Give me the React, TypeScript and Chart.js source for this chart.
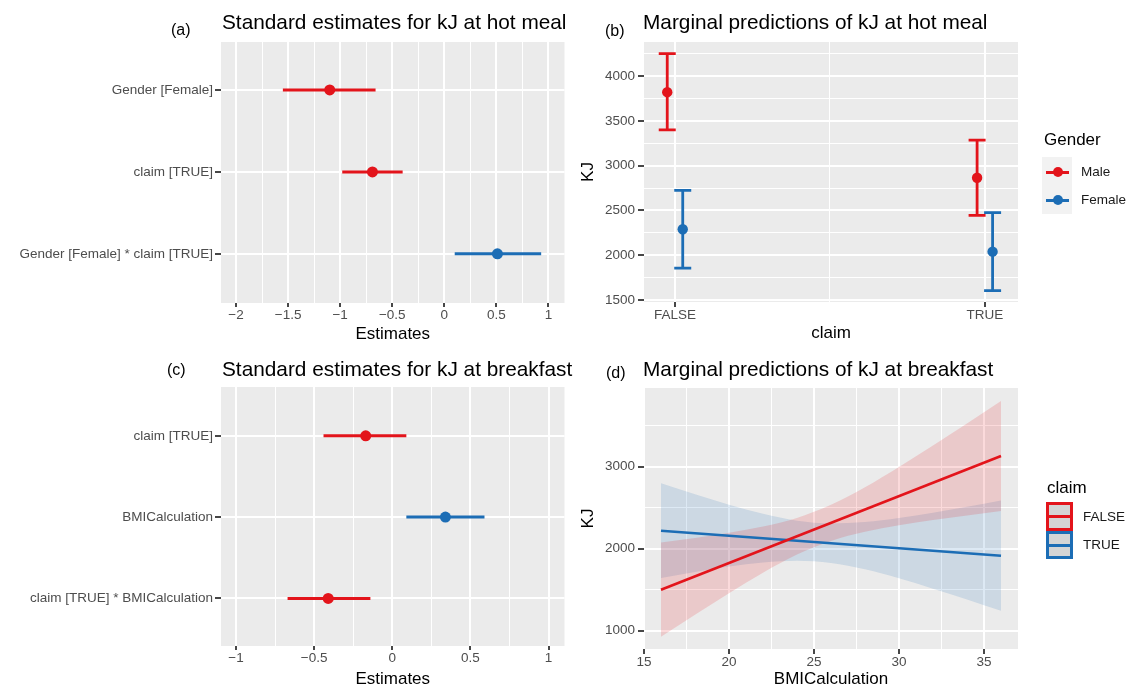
import React, { useEffect, useRef } from 'react';
import { Chart, registerables } from 'chart.js';

Chart.register(...registerables);

const FONT = '"Liberation Sans", Arial, Helvetica, sans-serif';
Chart.defaults.font.family = FONT;

const RED = '#E3141B';
const BLUE = '#1C6DB5';
const TICK_TEXT = '#4D4D4D';
const PANEL_BG = '#EBEBEB';

// ---------- (a) Standard estimates for kJ at hot meal ----------
const termsA = ['Gender [Female]', 'claim [TRUE]', 'Gender [Female] * claim [TRUE]'];
const estA = [-1.1, -0.69, 0.51];
const lowA = [-1.55, -0.98, 0.1];
const highA = [-0.66, -0.4, 0.93];
const xMajorA = [-2, -1.5, -1, -0.5, 0, 0.5, 1];
const xMinorA = [-1.75, -1.25, -0.75, -0.25, 0.25, 0.75];

// ---------- (c) Standard estimates for kJ at breakfast ----------
const termsC = ['claim [TRUE]', 'BMICalculation', 'claim [TRUE] * BMICalculation'];
const estC = [-0.17, 0.34, -0.41];
const lowC = [-0.44, 0.09, -0.67];
const highC = [0.09, 0.59, -0.14];
const xMajorC = [-1, -0.5, 0, 0.5, 1];
const xMinorC = [-0.75, -0.25, 0.25, 0.75];

// ---------- (b) Marginal predictions of kJ at hot meal ----------
const claimLevels = ['FALSE', 'TRUE'];
const genderLevels = ['Male', 'Female'];
const predMale = [3820, 2865];
const lowMale = [3400, 2445];
const highMale = [4250, 3285];
const predFemale = [2290, 2040];
const lowFemale = [1855, 1605];
const highFemale = [2725, 2475];
const yMajorB = [1500, 2000, 2500, 3000, 3500, 4000];
const yMinorB = [1750, 2250, 2750, 3250, 3750, 4250];

// ---------- (d) Marginal predictions of kJ at breakfast ----------
const bmiEnds = [16, 36];
const fitFalse = [1500, 3130];
const fitTrue = [2220, 1915];
const bmi = [16, 18, 20, 22, 24, 26, 28, 30, 32, 34, 36];
const lowFalse = [925, 1195, 1458, 1707, 1928, 2095, 2206, 2285, 2349, 2406, 2460];
const highFalse = [2075, 2131, 2194, 2271, 2376, 2535, 2750, 2997, 3259, 3528, 3800];
const lowTrue = [1643, 1716, 1782, 1833, 1854, 1827, 1749, 1639, 1513, 1381, 1243];
const highTrue = [2797, 2664, 2537, 2425, 2342, 2309, 2325, 2375, 2439, 2511, 2587];
const xMajorD = [15, 20, 25, 30, 35];
const xMinorD = [17.5, 22.5, 27.5, 32.5];
const yMajorD = [1000, 2000, 3000];
const yMinorD = [1500, 2500, 3500];

const minus = (v: number) => (v < 0 ? '\u2212' + String(Math.abs(v)) : String(v));

const bgPlugin = {
  id: 'panelBg',
  beforeDraw(chart: any) {
    const { ctx, chartArea } = chart;
    ctx.save();
    ctx.fillStyle = PANEL_BG;
    ctx.fillRect(chartArea.left, chartArea.top, chartArea.right - chartArea.left, chartArea.bottom - chartArea.top);
    ctx.restore();
  },
};

const errorBarPlugin = {
  id: 'errorBars',
  beforeDatasetsDraw(chart: any) {
    const { ctx } = chart;
    const xs = chart.scales.x;
    const ys = chart.scales.y;
    chart.data.datasets.forEach((ds: any) => {
      const eb = ds.errorBar;
      if (!eb) return;
      ds.data.forEach((d: any, i: number) => {
        ctx.save();
        ctx.strokeStyle = Array.isArray(eb.colors) ? eb.colors[i] : eb.colors;
        ctx.lineWidth = eb.width;
        ctx.lineCap = 'butt';
        ctx.beginPath();
        if (eb.dir === 'x') {
          const y = ys.getPixelForValue(d.y);
          ctx.moveTo(xs.getPixelForValue(d.xMin), y);
          ctx.lineTo(xs.getPixelForValue(d.xMax), y);
        } else {
          const x = xs.getPixelForValue(d.x);
          const y1 = ys.getPixelForValue(d.yMin);
          const y2 = ys.getPixelForValue(d.yMax);
          ctx.moveTo(x, y1);
          ctx.lineTo(x, y2);
          if (eb.cap) {
            ctx.moveTo(x - eb.cap, y1);
            ctx.lineTo(x + eb.cap, y1);
            ctx.moveTo(x - eb.cap, y2);
            ctx.lineTo(x + eb.cap, y2);
          }
        }
        ctx.stroke();
        ctx.restore();
      });
    });
  },
};

type AxisSpec = {
  horizontal: boolean;
  min: number;
  max: number;
  major: number[];
  minor: number[];
  label: (v: number) => string;
  reverse?: boolean;
  size: number;
  tickLen: number;
  tickPad: number;
  title?: string;
  titlePad?: any;
};

function axis(s: AxisSpec) {
  const isMajor = (v: number) => s.major.some((m) => Math.abs(m - v) < 1e-9);
  const all = [...s.major, ...s.minor].sort((a, b) => a - b);
  return {
    type: 'linear',
    position: s.horizontal ? 'bottom' : 'left',
    min: s.min,
    max: s.max,
    reverse: !!s.reverse,
    bounds: 'data',
    afterBuildTicks: (scale: any) => {
      scale.ticks = all.map((v) => ({ value: v }));
    },
    afterFit: (scale: any) => {
      if (s.horizontal) scale.height = s.size;
      else scale.width = s.size;
    },
    grid: {
      display: true,
      drawOnChartArea: true,
      drawTicks: true,
      color: '#FFFFFF',
      lineWidth: (c: any) => (c.tick && isMajor(c.tick.value) ? 2 : 1),
      tickColor: (c: any) => (c.tick && isMajor(c.tick.value) ? '#333333' : 'rgba(0,0,0,0)'),
      tickWidth: (c: any) => (c.tick && isMajor(c.tick.value) ? 1.8 : 1),
      tickLength: s.tickLen,
    },
    border: { display: false },
    ticks: {
      autoSkip: false,
      maxRotation: 0,
      minRotation: 0,
      padding: s.tickPad,
      color: TICK_TEXT,
      font: { family: FONT, size: 13.5, lineHeight: 1.2 },
      callback: (v: any) => (isMajor(Number(v)) ? s.label(Number(v)) : ''),
    },
    title: s.title
      ? {
          display: true,
          text: s.title,
          color: '#000000',
          font: { family: FONT, size: 17, lineHeight: 1 },
          padding: s.titlePad,
        }
      : { display: false },
  };
}

const baseOptions = (padding: any, scales: any) => ({
  responsive: false,
  maintainAspectRatio: false,
  animation: false,
  events: [],
  layout: { padding },
  plugins: { legend: { display: false }, tooltip: { enabled: false }, title: { display: false } },
  scales,
});

function forestConfig(
  terms: string[],
  est: number[],
  low: number[],
  high: number[],
  xMin: number,
  xMax: number,
  xMajor: number[],
  xMinor: number[],
  yMin: number,
  yMax: number,
  titlePadBottom: number
) {
  const colors = est.map((v) => (v < 0 ? RED : BLUE));
  return {
    type: 'scatter',
    data: {
      datasets: [
        {
          data: est.map((v, i) => ({ x: v, y: i + 1, xMin: low[i], xMax: high[i] })),
          pointRadius: 5.5,
          pointHoverRadius: 5.5,
          pointBackgroundColor: colors,
          pointBorderColor: colors,
          pointBorderWidth: 0,
          errorBar: { dir: 'x', width: 3, cap: 0, colors },
        },
      ],
    },
    options: baseOptions(
      { top: 42, right: 5, left: 0, bottom: 0 },
      {
        x: axis({
          horizontal: true,
          min: xMin,
          max: xMax,
          major: xMajor,
          minor: xMinor,
          label: minus,
          size: 42,
          tickLen: 4,
          tickPad: 0,
          title: 'Estimates',
          titlePad: { top: 0, bottom: titlePadBottom },
        }),
        y: axis({
          horizontal: false,
          min: yMin,
          max: yMax,
          reverse: true,
          major: terms.map((_, i) => i + 1),
          minor: [],
          label: (v) => terms[Math.round(v) - 1],
          size: 221,
          tickLen: 6,
          tickPad: 2,
        }),
      }
    ),
    plugins: [bgPlugin, errorBarPlugin],
  };
}

function configA() {
  return forestConfig(termsA, estA, lowA, highA, -2.144, 1.154, xMajorA, xMinorA, 0.415, 3.6, 2.5);
}

function configC() {
  return forestConfig(termsC, estC, lowC, highC, -1.096, 1.102, xMajorC, xMinorC, 0.4, 3.585, 0);
}

function configB() {
  const dodge = 0.025;
  const series = [
    { pred: predMale, low: lowMale, high: highMale, color: RED },
    { pred: predFemale, low: lowFemale, high: highFemale, color: BLUE },
  ];
  return {
    type: 'scatter',
    data: {
      datasets: genderLevels.map((g, gi) => {
        const s = series[gi];
        const off = gi === 0 ? -dodge : dodge;
        return {
          label: g,
          data: claimLevels.map((_, ci) => ({ x: ci + 1 + off, y: s.pred[ci], yMin: s.low[ci], yMax: s.high[ci] })),
          pointRadius: 5.2,
          pointHoverRadius: 5.2,
          pointBackgroundColor: s.color,
          pointBorderColor: s.color,
          pointBorderWidth: 0,
          errorBar: { dir: 'y', width: 2.8, cap: 8.5, colors: s.color },
        };
      }),
    },
    options: baseOptions(
      { top: 42, right: 111, left: 0, bottom: 0 },
      {
        x: axis({
          horizontal: true,
          min: 0.9,
          max: 2.107,
          major: claimLevels.map((_, i) => i + 1),
          minor: [1.5],
          label: (v) => claimLevels[Math.round(v) - 1],
          size: 43,
          tickLen: 5,
          tickPad: 0,
          title: 'claim',
          titlePad: { top: 0, bottom: 3.5 },
        }),
        y: axis({
          horizontal: false,
          min: 1478,
          max: 4380,
          major: yMajorB,
          minor: yMinorB,
          label: (v) => String(v),
          size: 74,
          tickLen: 6,
          tickPad: 3,
          title: 'KJ',
          titlePad: { top: 9.5, bottom: 0 },
        }),
      }
    ),
    plugins: [bgPlugin, errorBarPlugin],
  };
}

function configD() {
  const pts = (xs: number[], ys: number[]) => xs.map((x, i) => ({ x, y: ys[i] }));
  const ribbon = (ys: number[], fill: any, bg: string) => ({
    data: pts(bmi, ys),
    borderColor: 'rgba(0,0,0,0)',
    borderWidth: 0,
    pointRadius: 0,
    pointHoverRadius: 0,
    fill,
    backgroundColor: bg,
    cubicInterpolationMode: 'monotone',
  });
  return {
    type: 'line',
    data: {
      datasets: [
        { label: 'FALSE', data: pts(bmiEnds, fitFalse), borderColor: RED, borderWidth: 2.6, pointRadius: 0, fill: false },
        { label: 'TRUE', data: pts(bmiEnds, fitTrue), borderColor: BLUE, borderWidth: 2.6, pointRadius: 0, fill: false },
        ribbon(highFalse, '+1', 'rgba(228,26,28,0.16)'),
        ribbon(lowFalse, false, 'rgba(0,0,0,0)'),
        ribbon(highTrue, '+1', 'rgba(28,109,181,0.15)'),
        ribbon(lowTrue, false, 'rgba(0,0,0,0)'),
      ],
    },
    options: baseOptions(
      { top: 43, right: 111, left: 0, bottom: 0 },
      {
        x: axis({
          horizontal: true,
          min: 15,
          max: 37,
          major: xMajorD,
          minor: xMinorD,
          label: (v) => String(v),
          size: 39,
          tickLen: 5,
          tickPad: 0,
          title: 'BMICalculation',
          titlePad: { top: 0, bottom: 0 },
        }),
        y: axis({
          horizontal: false,
          min: 777,
          max: 3960,
          major: yMajorD,
          minor: yMinorD,
          label: (v) => String(v),
          size: 74,
          tickLen: 6,
          tickPad: 3,
          title: 'KJ',
          titlePad: { top: 9.5, bottom: 0 },
        }),
      }
    ),
    plugins: [bgPlugin],
  };
}

function ChartCanvas(props: { left: number; top: number; width: number; height: number; make: () => any }) {
  const ref = useRef<HTMLCanvasElement>(null);
  useEffect(() => {
    const chart = new Chart(ref.current as HTMLCanvasElement, props.make());
    return () => chart.destroy();
  }, []);
  return (
    <canvas
      ref={ref}
      width={props.width}
      height={props.height}
      style={{ position: 'absolute', left: props.left, top: props.top, width: props.width, height: props.height }}
    />
  );
}

const abs = (left: number, top: number, extra: any = {}) => ({
  position: 'absolute' as const,
  left,
  top,
  whiteSpace: 'nowrap' as const,
  ...extra,
});

const titleFont = { fontSize: 20.8, lineHeight: '24px', color: '#000' };
const tagFont = { fontSize: 16, lineHeight: '20px', color: '#000' };
const legTitleFont = { fontSize: 17, lineHeight: '20px', color: '#000' };
const legTextFont = { fontSize: 13.5, lineHeight: '16px', color: '#1A1A1A' };

function PointKey(props: { top: number; color: string }) {
  return (
    <div style={abs(1042, props.top, { width: 30, height: 28 })}>
      <div style={abs(4, 12.5, { width: 23, height: 3, background: props.color })} />
      <div style={abs(10.5, 9, { width: 10, height: 10, borderRadius: '50%', background: props.color })} />
    </div>
  );
}

function FillKey(props: { top: number; height: number; color: string }) {
  return (
    <div
      style={abs(1046, props.top, {
        width: 27,
        height: props.height,
        boxSizing: 'border-box',
        border: `3px solid ${props.color}`,
        background: '#D5D5D5',
      })}
    >
      <div style={abs(0, (props.height - 6) / 2 - 1.5, { width: 21, height: 3, background: props.color })} />
    </div>
  );
}

export default function App() {
  return (
    <div
      style={{
        position: 'absolute',
        left: 0,
        top: 0,
        width: 1129,
        height: 688,
        background: '#FFFFFF',
        overflow: 'hidden',
        fontFamily: FONT,
      }}
    >
      <ChartCanvas left={0} top={0} width={570} height={345} make={configA} />
      <ChartCanvas left={570} top={0} width={559} height={345} make={configB} />
      <ChartCanvas left={0} top={345} width={570} height={343} make={configC} />
      <ChartCanvas left={570} top={345} width={559} height={343} make={configD} />

      <div style={abs(171, 20, tagFont)}>(a)</div>
      <div style={abs(222, 10, titleFont)}>Standard estimates for kJ at hot meal</div>
      <div style={abs(605, 21, tagFont)}>(b)</div>
      <div style={abs(643, 10, titleFont)}>Marginal predictions of kJ at hot meal</div>
      <div style={abs(167, 360, tagFont)}>(c)</div>
      <div style={abs(222, 357, titleFont)}>Standard estimates for kJ at breakfast</div>
      <div style={abs(606, 363, tagFont)}>(d)</div>
      <div style={abs(643, 357, titleFont)}>Marginal predictions of kJ at breakfast</div>

      {/* legend (b) */}
      <div style={abs(1044, 130, legTitleFont)}>Gender</div>
      <div style={abs(1042, 157, { width: 30, height: 57, background: '#F2F2F2' })} />
      <PointKey top={158} color={RED} />
      <PointKey top={186} color={BLUE} />
      <div style={abs(1081, 164, legTextFont)}>{genderLevels[0]}</div>
      <div style={abs(1081, 192, legTextFont)}>{genderLevels[1]}</div>

      {/* legend (d) */}
      <div style={abs(1047, 478, legTitleFont)}>claim</div>
      <FillKey top={502} height={29} color={RED} />
      <FillKey top={531} height={28} color={BLUE} />
      <div style={abs(1083, 509, legTextFont)}>{claimLevels[0]}</div>
      <div style={abs(1083, 537, legTextFont)}>{claimLevels[1]}</div>
    </div>
  );
}
